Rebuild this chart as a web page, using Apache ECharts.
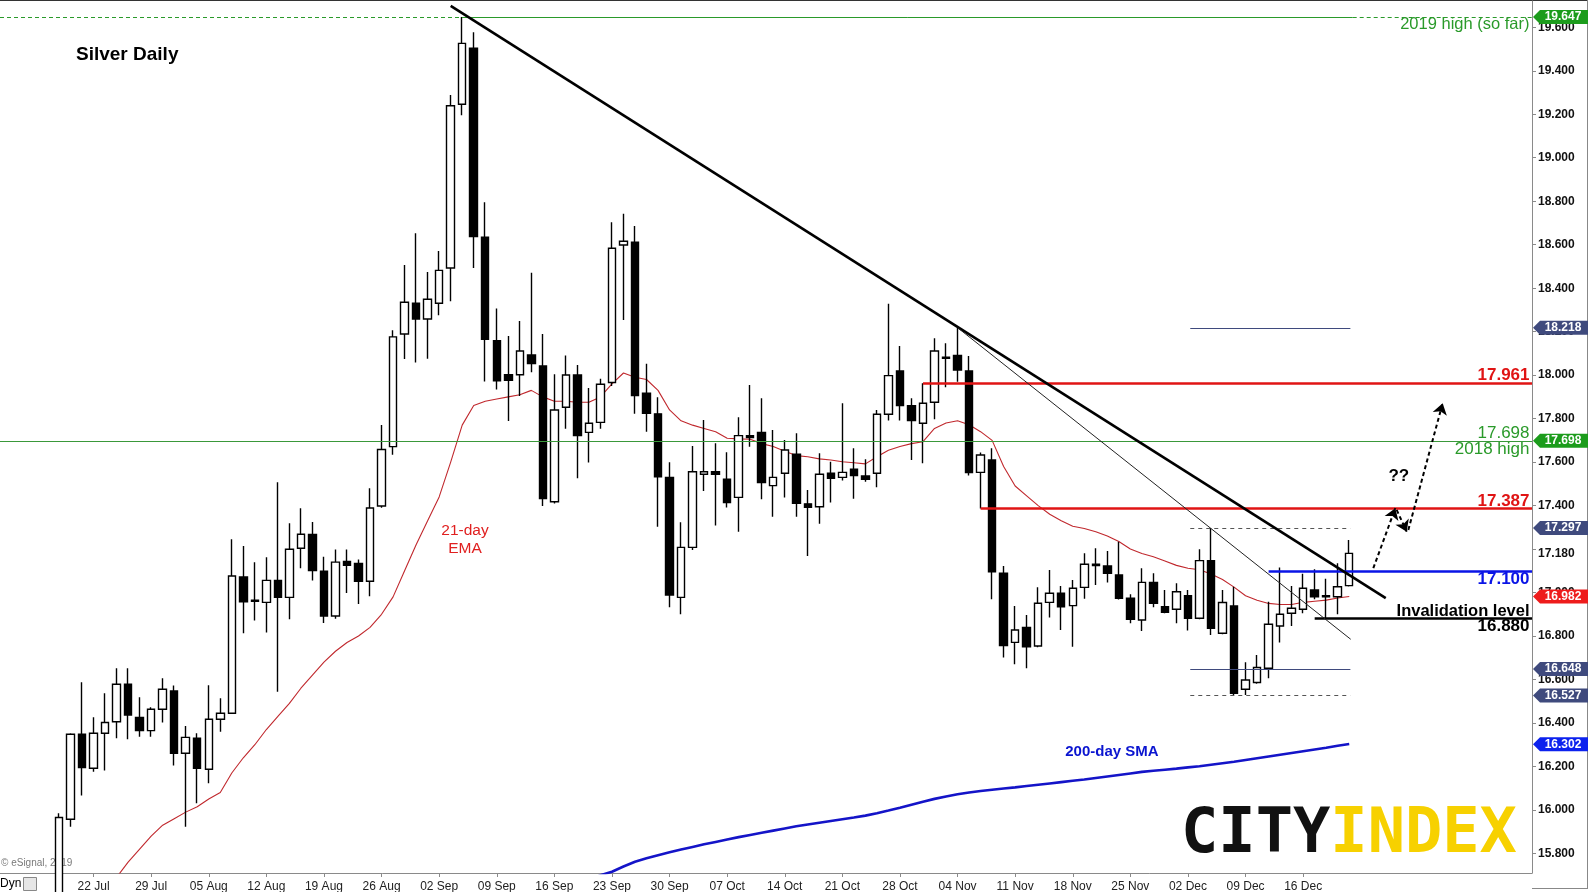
<!DOCTYPE html>
<html><head><meta charset="utf-8">
<script src="https://cdn.jsdelivr.net/npm/echarts@6/dist/echarts.min.js"></script>
<style>html,body{margin:0;padding:0;background:#fff}#c{width:1588px;height:892px}</style>
</head><body><div id="c"></div>
<script>
// ---------------- data ----------------
const dates = ['17 Jul','18 Jul','19 Jul','22 Jul','23 Jul','24 Jul','25 Jul','26 Jul','29 Jul','30 Jul','31 Jul',
'01 Aug','02 Aug','05 Aug','06 Aug','07 Aug','08 Aug','09 Aug','12 Aug','13 Aug','14 Aug','15 Aug','16 Aug','19 Aug','20 Aug','21 Aug','22 Aug','23 Aug','26 Aug','27 Aug','28 Aug','29 Aug','30 Aug',
'02 Sep','03 Sep','04 Sep','05 Sep','06 Sep','09 Sep','10 Sep','11 Sep','12 Sep','13 Sep','16 Sep','17 Sep','18 Sep','19 Sep','20 Sep','23 Sep','24 Sep','25 Sep','26 Sep','27 Sep','30 Sep',
'01 Oct','02 Oct','03 Oct','04 Oct','07 Oct','08 Oct','09 Oct','10 Oct','11 Oct','14 Oct','15 Oct','16 Oct','17 Oct','18 Oct','21 Oct','22 Oct','23 Oct','24 Oct','25 Oct','28 Oct','29 Oct','30 Oct','31 Oct',
'01 Nov','04 Nov','05 Nov','06 Nov','07 Nov','08 Nov','11 Nov','12 Nov','13 Nov','14 Nov','15 Nov','18 Nov','19 Nov','20 Nov','21 Nov','22 Nov','25 Nov','26 Nov','27 Nov','28 Nov','29 Nov',
'02 Dec','03 Dec','04 Dec','05 Dec','06 Dec','09 Dec','10 Dec','11 Dec','12 Dec','13 Dec','16 Dec','17 Dec','18 Dec','19 Dec','20 Dec'];

const open = [15.60,15.957,16.348,16.192,16.353,16.406,16.578,16.426,16.365,16.463,
16.547,16.261,16.330,16.187,16.417,16.445,17.072,16.965,16.955,17.056,
16.978,17.204,17.267,17.098,16.892,17.143,17.134,17.052,17.398,17.671,
18.189,18.331,18.258,18.331,18.493,19.246,19.504,18.634,18.158,18.002,
18.002,18.093,18.042,17.418,17.852,18.001,17.737,17.783,17.966,18.599,
18.611,17.917,17.822,17.530,16.978,17.208,17.544,17.556,17.521,17.438,
17.722,17.737,17.492,17.549,17.636,17.408,17.395,17.549,17.530,17.567,
17.536,17.549,17.820,18.019,17.860,17.779,17.875,18.083,18.091,18.019,
17.553,17.610,17.089,16.771,16.840,16.754,16.955,16.997,16.940,17.024,
17.130,17.122,17.081,16.974,16.874,17.047,16.935,16.923,16.986,16.882,
17.147,16.813,16.938,16.555,16.586,16.652,16.846,16.905,16.923,17.012,
16.985,16.981,17.032];

const high = [15.985,16.353,16.587,16.426,16.537,16.652,16.652,16.518,16.472,16.606,
16.572,16.386,16.353,16.574,16.514,17.245,17.214,17.139,17.162,17.507,
17.319,17.388,17.325,17.165,17.198,17.198,17.152,17.480,17.771,18.207,
18.507,18.653,18.475,18.571,19.289,19.647,19.577,18.795,18.307,18.180,
18.249,18.471,18.189,18.004,18.090,18.047,17.941,17.983,18.703,18.742,
18.686,18.052,17.898,17.599,17.323,17.674,17.794,17.687,17.645,17.806,
17.955,17.894,17.748,17.702,17.733,17.472,17.641,17.602,17.871,17.664,
17.613,17.840,18.328,18.134,17.894,17.963,18.170,18.147,18.218,18.088,
17.644,17.664,17.122,16.938,16.897,17.024,17.104,17.030,17.058,17.181,
17.204,17.191,17.234,16.992,17.112,17.089,17.012,17.043,17.012,17.199,
17.297,17.012,17.027,16.679,16.713,16.958,17.115,17.030,17.086,17.107,
17.063,17.135,17.242];

const low = [15.55,15.923,16.066,16.176,16.181,16.330,16.325,16.337,16.337,16.402,
16.204,15.923,16.031,16.123,16.360,16.442,16.813,16.871,16.816,16.544,
16.877,17.112,17.056,16.860,16.880,16.998,16.947,16.983,17.390,17.634,
18.074,18.058,18.076,18.276,18.340,19.195,18.493,17.971,17.934,17.789,
17.904,18.013,17.398,17.410,17.753,17.526,17.598,17.753,17.950,18.254,
17.823,17.740,17.303,16.932,16.900,17.196,17.467,17.308,17.391,17.280,
17.671,17.429,17.349,17.437,17.349,17.168,17.316,17.414,17.515,17.432,
17.510,17.484,17.791,17.791,17.610,17.595,17.797,17.944,17.970,17.538,
17.387,16.969,16.701,16.670,16.652,16.748,16.885,16.828,16.751,16.971,
17.035,17.046,16.968,16.859,16.823,16.932,16.905,16.859,16.825,16.877,
16.805,16.808,16.527,16.529,16.580,16.606,16.770,16.846,16.905,16.969,
16.882,16.900,17.028];

const close = [15.965,16.348,16.195,16.353,16.402,16.578,16.437,16.365,16.463,16.555,
16.261,16.334,16.192,16.417,16.445,17.076,16.958,16.960,17.056,16.978,
17.199,17.268,17.101,16.892,17.140,17.125,17.052,17.389,17.658,18.176,
18.335,18.258,18.349,18.482,19.239,19.526,18.638,18.165,17.974,17.976,
18.111,18.053,17.432,17.840,18.001,17.722,17.779,17.958,18.584,18.616,
17.906,17.825,17.533,16.989,17.208,17.556,17.556,17.544,17.414,17.722,
17.713,17.506,17.530,17.656,17.411,17.392,17.544,17.526,17.553,17.538,
17.521,17.820,17.998,17.860,17.791,17.871,18.111,18.078,18.024,17.552,
17.633,17.096,16.756,16.828,16.751,16.951,16.997,16.935,17.020,17.130,
17.124,17.089,16.974,16.877,17.047,16.951,16.909,17.004,16.882,17.147,
16.836,16.954,16.537,16.598,16.655,16.854,16.900,16.928,17.020,16.981,
16.980,17.027,17.180];

const ema21 = [15.42,15.47,15.52,15.57,15.63,15.69,15.76,15.82,15.88,15.93,
15.96,15.99,16.015,16.05,16.08,16.17,16.24,16.30,16.37,16.43,
16.49,16.56,16.62,16.68,16.73,16.77,16.80,16.84,16.90,16.98,
17.10,17.22,17.33,17.44,17.60,17.77,17.86,17.88,17.89,17.90,
17.91,17.93,17.90,17.88,17.88,17.875,17.875,17.90,17.96,18.01,
17.99,17.98,17.93,17.84,17.79,17.77,17.755,17.74,17.71,17.707,
17.705,17.685,17.672,17.65,17.63,17.625,17.615,17.61,17.602,17.597,
17.592,17.625,17.655,17.672,17.685,17.694,17.755,17.78,17.79,17.772,
17.74,17.70,17.58,17.49,17.445,17.40,17.36,17.33,17.305,17.295,
17.28,17.26,17.235,17.20,17.18,17.165,17.145,17.125,17.112,17.105,
17.085,17.06,17.025,16.985,16.965,16.95,16.945,16.945,16.955,16.96,
16.965,16.975,16.982];

const sma200 = [null,null,null,null,null,null,null,null,null,null,
null,null,null,null,null,null,null,null,null,null,
null,null,null,null,null,null,null,null,null,null,
null,null,null,null,null,null,null,null,null,null,
null,null,null,null,null,15.65,15.675,15.70,15.716,15.74,
15.762,15.778,15.792,15.805,15.818,15.83,15.842,15.853,15.864,15.875,
15.885,15.895,15.905,15.915,15.925,15.933,15.941,15.949,15.957,15.965,
15.974,15.985,15.997,16.01,16.024,16.038,16.051,16.062,16.072,16.08,
16.087,16.093,16.099,16.104,16.11,16.116,16.122,16.128,16.134,16.14,
16.147,16.154,16.161,16.168,16.175,16.18,16.185,16.19,16.196,16.201,
16.208,16.215,16.222,16.23,16.238,16.246,16.254,16.262,16.27,16.278,
16.286,16.295,16.303];

const tickLabels = ['22 Jul','29 Jul','05 Aug','12 Aug','19 Aug','26 Aug','02 Sep','09 Sep','16 Sep','23 Sep','30 Sep',
'07 Oct','14 Oct','21 Oct','28 Oct','04 Nov','11 Nov','18 Nov','25 Nov','02 Dec','09 Dec','16 Dec'];
const yTicks = [15.8,16.0,16.2,16.4,16.6,16.8,17.0,17.2,17.4,17.6,17.8,18.0,18.2,18.4,18.6,18.8,19.0,19.2,19.4,19.6];
const lastClose = 17.180;

const high2019 = 19.647;
const high2018 = 17.698;
const resistance1 = 17.961;
const resistance2 = 17.387;
const breakoutLevel = 17.100;
const invalidation = 16.880;
const rangeHigh = 18.218;
const rangeTop = 17.297;
const rangeMid = 16.648;
const rangeLow = 16.527;
const tagValues = [19.647, 18.218, 17.698, 17.297, 16.982, 16.648, 16.527, 16.302];
const tagColors = ['#1c9c1c','#3f4a7d','#1c9c1c','#3f4a7d','#ee1c1c','#3f4a7d','#3f4a7d','#0c22ee'];

// ---------------- layout ----------------
const T_MIN = -5.1215, T_MAX = 127.865;
const Y_MIN = 15.710, Y_MAX = 19.721;
const FONT = "'Liberation Sans', Arial, sans-serif";

const candleData = dates.map((d, i) => [i, open[i], close[i], low[i], high[i]]);
const emaData = ema21.map((v, i) => [i, v]);
const smaData = sma200.map((v, i) => [i, v == null ? '-' : v]);
const xTickPos = tickLabels.map(l => dates.indexOf(l));
const yLabelVals = yTicks.filter(v => Math.abs(v - 17.2) > 1e-6).concat([lastClose]);

const lines = [];
function L(x1, y1, x2, y2, ls, arrow) {
  lines.push([
    {coord: [x1, y1], lineStyle: ls, symbol: 'none'},
    {coord: [x2, y2], lineStyle: ls, symbol: arrow ? 'arrow' : 'none', symbolSize: arrow ? 11 : 1}
  ]);
}
const green = '#2a9a2a';
L(T_MIN, high2019, 35.07, high2019, {color: green, width: 1, type: [4, 3]});
L(35.07, high2019, 112.3, high2019, {color: green, width: 1, type: 'solid'});
L(112.3, high2019, T_MAX, high2019, {color: green, width: 1, type: [4, 3]});
L(T_MIN, high2018, T_MAX, high2018, {color: '#3a983a', width: 1, type: 'solid'});
L(75, resistance1, T_MAX, resistance1, {color: '#e01414', width: 2.6, type: 'solid'});
L(80, resistance2, T_MAX, resistance2, {color: '#e01414', width: 2.6, type: 'solid'});
L(105, breakoutLevel, T_MAX, breakoutLevel, {color: '#0a14e6', width: 2.6, type: 'solid'});
L(109, invalidation, T_MAX, invalidation, {color: '#000', width: 2.6, type: 'solid'});
L(98.2, rangeHigh, 112.1, rangeHigh, {color: '#3f4a7d', width: 1, type: 'solid'});
L(98.2, rangeTop, 112.1, rangeTop, {color: '#555', width: 1, type: [4, 4]});
L(98.2, rangeMid, 112.1, rangeMid, {color: '#3f4a7d', width: 1, type: 'solid'});
L(98.2, rangeLow, 112.1, rangeLow, {color: '#555', width: 1, type: [4, 4]});
// trend lines
L(34.0, 19.699, 115.17, 16.974, {color: '#000', width: 2.6, type: 'solid'});
L(78.06, 18.216, 112.13, 16.785, {color: '#222', width: 1, type: 'solid'});
// scenario arrows
L(114.09, 17.112, 116.0, 17.388, {color: '#000', width: 2, type: [4, 3]}, true);
L(116.12, 17.380, 116.99, 17.280, {color: '#000', width: 2, type: [4, 3]}, true);
L(117.13, 17.288, 120.11, 17.871, {color: '#000', width: 2, type: [4, 3]}, true);

const points = [];
function txt(x, y, text, lab) {
  points.push({coord: [x, y], symbol: 'circle', symbolSize: 1, itemStyle: {color: 'rgba(0,0,0,0)'},
    label: Object.assign({show: true, formatter: text, fontFamily: FONT}, lab)});
}
txt(T_MAX, 19.611, '2019 high (so far)', {position: 'left', distance: 2, color: '#2a9a2a', fontSize: 16.5});
txt(T_MAX, 17.999, '17.961', {position: 'left', distance: 2, color: '#e01414', fontSize: 17, fontWeight: 'bold'});
txt(T_MAX, 17.734, '17.698', {position: 'left', distance: 2, color: '#2a9a2a', fontSize: 17});
txt(T_MAX, 17.661, '2018 high', {position: 'left', distance: 2, color: '#2a9a2a', fontSize: 17});
txt(T_MAX, 17.421, '17.387', {position: 'left', distance: 2, color: '#e01414', fontSize: 17, fontWeight: 'bold'});
txt(T_MAX, 17.063, '17.100', {position: 'left', distance: 2, color: '#0a14e6', fontSize: 17, fontWeight: 'bold'});
txt(T_MAX, 16.915, 'Invalidation level', {position: 'left', distance: 2, color: '#000', fontSize: 16.5, fontWeight: 'bold'});
txt(T_MAX, 16.844, '16.880', {position: 'left', distance: 2, color: '#000', fontSize: 17, fontWeight: 'bold'});
txt(116.3, 17.535, '??', {position: 'inside', color: '#000', fontSize: 17, fontWeight: 'bold'});
txt(35.24, 17.242, '21-day\nEMA', {position: 'inside', color: '#e02020', fontSize: 15.5, lineHeight: 18, align: 'center'});
txt(91.4, 16.268, '200-day SMA', {position: 'inside', color: '#0a14d0', fontSize: 15, fontWeight: 'bold'});

tagValues.forEach((v, i) => {
  points.push({coord: [T_MAX, v], symbol: 'path://M0,7L7,0L56,0L56,14L7,14Z', symbolSize: [56, 14],
    symbolOffset: [29, 0], symbolKeepAspect: false, itemStyle: {color: tagColors[i]},
    label: {show: true, position: 'inside', formatter: v.toFixed(3), color: '#fff', fontWeight: 'bold',
      fontSize: 12, fontFamily: FONT, offset: [2, 0]}});
});

const chart = echarts.init(document.getElementById('c'), null, {renderer: 'canvas'});
chart.setOption({
  animation: false,
  backgroundColor: '#fff',
  title: {text: 'Silver Daily', left: 76, top: 45, padding: 0,
    textStyle: {fontSize: 19, fontWeight: 'bold', color: '#000', fontFamily: FONT}},
  grid: {left: 0, right: 56, top: 1, bottom: 19, containLabel: false, outerBoundsMode: 'none'},
  xAxis: {
    type: 'value', min: T_MIN, max: T_MAX, scale: true,
    axisLine: {show: true, onZero: false, lineStyle: {color: '#8a8a8a', width: 1}},
    axisTick: {show: true, length: 4, customValues: xTickPos, lineStyle: {color: '#8a8a8a'}},
    axisLabel: {show: true, customValues: xTickPos, margin: 8, fontSize: 12, color: '#222', fontFamily: FONT,
      formatter: v => dates[Math.round(v)] || ''},
    splitLine: {show: false}
  },
  yAxis: {
    type: 'value', position: 'right', min: Y_MIN, max: Y_MAX, scale: true,
    axisLine: {show: true, onZero: false, lineStyle: {color: '#8a8a8a', width: 1}},
    axisTick: {show: true, length: 4, customValues: yTicks, lineStyle: {color: '#8a8a8a'}},
    axisLabel: {show: true, customValues: yLabelVals, margin: 6, fontSize: 12, fontWeight: 'bold', color: '#111',
      fontFamily: FONT, formatter: v => v.toFixed(3)},
    splitLine: {show: false}
  },
  series: [
    {type: 'line', name: 'SMA200', data: smaData, showSymbol: false, symbol: 'none', silent: true,
      lineStyle: {color: '#1414c8', width: 2.6}, z: 2},
    {type: 'line', name: 'EMA21', data: emaData, showSymbol: false, symbol: 'none', silent: true,
      lineStyle: {color: '#c0282d', width: 1.1}, z: 2},
    {type: 'candlestick', name: 'Silver', data: candleData, barWidth: 8, silent: true, z: 3,
      itemStyle: {color: '#ffffff', color0: '#000000', borderColor: '#000000', borderColor0: '#000000', borderWidth: 1.4}},
    {type: 'line', name: 'annot', data: [], clip: false, silent: true, z: 4,
      markLine: {silent: true, animation: false, symbol: ['none', 'none'], label: {show: false}, data: lines},
      markPoint: {silent: true, animation: false, data: points}}
  ],
  graphic: [
    {type: 'line', shape: {x1: 0, y1: 0.5, x2: 1588, y2: 0.5}, style: {stroke: '#333', lineWidth: 1}, silent: true},
    {type: 'line', shape: {x1: 1587.5, y1: 0, x2: 1587.5, y2: 889}, style: {stroke: '#888', lineWidth: 1}, silent: true},
    {type: 'line', shape: {x1: 1532, y1: 888.5, x2: 1588, y2: 888.5}, style: {stroke: '#888', lineWidth: 1}, silent: true},
    {type: 'text', left: 1, top: 858, silent: true, style: {text: '\u00a9 eSignal, 2019', fill: '#7a7a7a', fontSize: 10, fontFamily: FONT}},
    {type: 'text', left: 0, top: 878, silent: true, style: {text: 'Dyn', fill: '#000', fontSize: 12, fontFamily: FONT}},
    {type: 'rect', shape: {x: 23.5, y: 877.5, width: 13, height: 13}, style: {fill: '#e6e6e6', stroke: '#888', lineWidth: 1}, silent: true},
    {type: 'text', x: 1181, y: 836, silent: true, style: {text: '{a|CITY}{b|INDEX}', verticalAlign: 'middle', align: 'left',
      fontSize: 62, fontWeight: 'bold', fontFamily: "'DejaVu Sans Mono','Liberation Mono',monospace",
      rich: {
        a: {fill: '#111', fontSize: 62, fontWeight: 'bold', fontFamily: "'DejaVu Sans Mono','Liberation Mono',monospace"},
        b: {fill: '#f7d100', fontSize: 62, fontWeight: 'bold', fontFamily: "'DejaVu Sans Mono','Liberation Mono',monospace"}
      }}}
  ]
});
</script>
</body></html>
